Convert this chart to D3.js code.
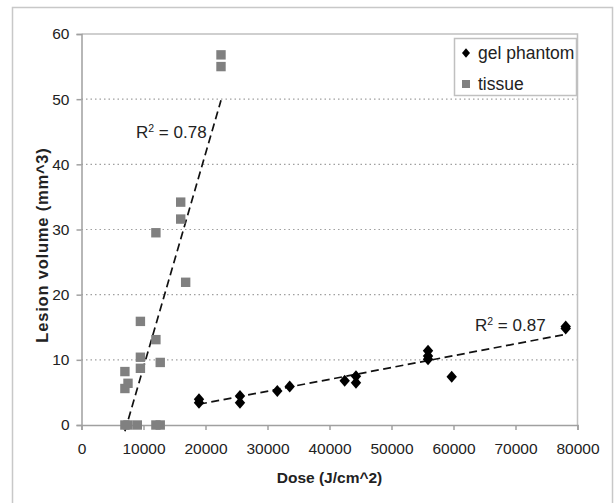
<!DOCTYPE html>
<html>
<head>
<meta charset="utf-8">
<script src="https://cdn.jsdelivr.net/npm/d3@7"></script>
<style>
  body { margin: 0; background: #fff; }
  svg { font-family: "Liberation Sans", Arial, sans-serif; }
</style>
</head>
<body>
<script>
// gel phantom measurements
const gelDose = [18950, 18950, 25560, 25560, 31580, 33580, 42450, 44270, 44270, 55890, 55890, 55890, 59710, 78100, 78100];
const gelVolume = [3.95, 3.4, 4.46, 3.4, 5.2, 5.9, 6.8, 7.5, 6.5, 11.4, 10.6, 10.1, 7.4, 15.1, 14.8];

// tissue measurements
const tissueDose = [7000, 7500, 9000, 12000, 12700, 7000, 7500, 7000, 9500, 9500, 12700, 12000, 9500, 16800, 12000, 16000, 16000, 22500, 22500];
const tissueVolume = [0, 0, 0, 0, 0, 5.6, 6.4, 8.2, 8.7, 10.4, 9.6, 13.1, 15.9, 21.9, 29.5, 31.6, 34.2, 55.0, 56.8];

// linear trendlines (slope, intercept, x span) and R^2
const tissueFit = { slope: 0.003277, intercept: -23.9, from: 7000, to: 22500, r2: "0.78" };
const gelFit = { slope: 0.0001816, intercept: -0.26, from: 18950, to: 78100, r2: "0.87" };

const xTicks = [0, 10000, 20000, 30000, 40000, 50000, 60000, 70000, 80000];
const yTicks = [0, 10, 20, 30, 40, 50, 60];
const seriesNames = ["gel phantom", "tissue"];

const W = 615, H = 503;
const margin = { top: 34, right: 37.5, bottom: 78, left: 81.5 };

const svg = d3.select("body").append("svg")
  .attr("width", W)
  .attr("height", H);

// outer chart frame
svg.append("rect")
  .attr("x", 12.5).attr("y", 7.5)
  .attr("width", 600).attr("height", 510)
  .attr("fill", "none")
  .attr("stroke", "#c8c8c8")
  .attr("stroke-width", 1.5);

const x = d3.scaleLinear()
  .domain([0, 80000])
  .range([margin.left, W - margin.right]);

const y = d3.scaleLinear()
  .domain([0, 60])
  .range([H - margin.bottom, margin.top]);

// dotted gridlines
svg.append("g")
  .selectAll("line")
  .data(yTicks.filter(d => d > 0 && d < 60))
  .join("line")
  .attr("x1", x(0)).attr("x2", x(80000))
  .attr("y1", d => y(d)).attr("y2", d => y(d))
  .attr("stroke", "#a0a0a0")
  .attr("stroke-width", 1.2)
  .attr("stroke-dasharray", "1.5,3");

// plot area border (top / right)
svg.append("path")
  .attr("d", `M${x(0)},${y(60)}H${x(80000)}V${y(0)}`)
  .attr("fill", "none")
  .attr("stroke", "#c0c0c0")
  .attr("stroke-width", 1.5);

// x axis
svg.append("g")
  .attr("transform", `translate(0,${y(0)})`)
  .call(d3.axisBottom(x).tickValues(xTicks).tickFormat(d3.format("d")).tickSize(5).tickPadding(13))
  .call(g => g.selectAll("path, line").attr("stroke", "#a0a0a0").attr("stroke-width", 1.5))
  .call(g => g.selectAll("text").attr("font-size", 15.5).attr("fill", "#222").attr("font-family", "Liberation Sans, Arial"));

// y axis
svg.append("g")
  .attr("transform", `translate(${x(0)},0)`)
  .call(d3.axisLeft(y).tickValues(yTicks).tickSize(5).tickPadding(7))
  .call(g => g.selectAll("path, line").attr("stroke", "#a0a0a0").attr("stroke-width", 1.5))
  .call(g => g.selectAll("text").attr("font-size", 15.5).attr("fill", "#222").attr("font-family", "Liberation Sans, Arial"));

// axis titles
svg.append("text")
  .attr("x", (x(0) + x(80000)) / 2)
  .attr("y", 483)
  .attr("text-anchor", "middle")
  .attr("font-size", 15.5)
  .attr("font-weight", "bold")
  .attr("fill", "#222")
  .text("Dose (J/cm^2)");

svg.append("text")
  .attr("transform", "translate(48,245) rotate(-90)")
  .attr("text-anchor", "middle")
  .attr("font-size", 16.5)
  .attr("font-weight", "bold")
  .attr("letter-spacing", 0.8)
  .attr("fill", "#222")
  .text("Lesion volume (mm^3)");

// trendlines
const fitLine = f => [[f.from, f.slope * f.from + f.intercept], [f.to, f.slope * f.to + f.intercept]];
const line = d3.line().x(d => x(d[0])).y(d => y(d[1]));
[tissueFit, gelFit].forEach(f => {
  svg.append("path")
    .attr("d", line(fitLine(f)))
    .attr("fill", "none")
    .attr("stroke", "#111")
    .attr("stroke-width", 1.7)
    .attr("stroke-dasharray", "8,4.5");
});

// tissue squares
const tissue = tissueDose.map((d, i) => [d, tissueVolume[i]]);
svg.append("g")
  .selectAll("rect")
  .data(tissue)
  .join("rect")
  .attr("x", d => x(d[0]) - 4.7)
  .attr("y", d => y(d[1]) - 4.7)
  .attr("width", 9.4).attr("height", 9.4)
  .attr("fill", "#808080");

// gel diamonds
const gel = gelDose.map((d, i) => [d, gelVolume[i]]);
const diamond = "M0,-6L5.2,0L0,6L-5.2,0Z";
svg.append("g")
  .selectAll("path")
  .data(gel)
  .join("path")
  .attr("transform", d => `translate(${x(d[0])},${y(d[1])})`)
  .attr("d", diamond)
  .attr("fill", "#000");

// R^2 labels
function r2Label(px, py, val) {
  const t = svg.append("text")
    .attr("x", px).attr("y", py)
    .attr("font-size", 17)
    .attr("fill", "#222");
  t.append("tspan").text("R");
  t.append("tspan").attr("dy", -6.5).attr("font-size", 10.5).text("2");
  t.append("tspan").attr("dy", 6.5).text(" = " + val);
}
r2Label(136, 138, tissueFit.r2);
r2Label(475, 331, gelFit.r2);

// legend
const legend = svg.append("g");
legend.append("rect")
  .attr("x", 454.5).attr("y", 38.5)
  .attr("width", 122).attr("height", 57)
  .attr("fill", "#fff")
  .attr("stroke", "#c0c0c0")
  .attr("stroke-width", 1.5);
legend.append("path")
  .attr("transform", "translate(466,53)")
  .attr("d", "M0,-4.8L4,0L0,4.8L-4,0Z")
  .attr("fill", "#000");
legend.append("rect")
  .attr("x", 462).attr("y", 80)
  .attr("width", 8).attr("height", 8)
  .attr("fill", "#808080");
legend.selectAll("text")
  .data(seriesNames)
  .join("text")
  .attr("x", 478)
  .attr("y", (d, i) => 59 + i * 31)
  .attr("font-size", 17.5)
  .attr("fill", "#222")
  .text(d => d);
</script>
</body>
</html>
